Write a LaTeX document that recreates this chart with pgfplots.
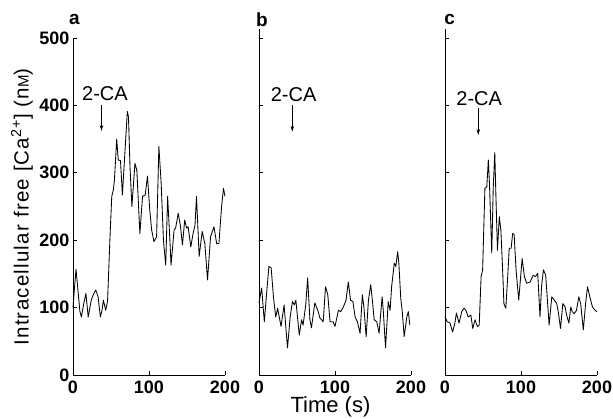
\documentclass[border=0pt]{standalone}
\usepackage{fontspec}
\setmainfont{Liberation Sans}
\newfontfamily\ylabfont[LetterSpace=6]{Liberation Sans}
\usepackage{pgfplots}
\pgfplotsset{compat=1.18}
\usepackage{pgfplotstable}
\usetikzlibrary{arrows.meta}

\pgfplotstableread{
t v
0 100
2 130
4 157
7 120
9 95
11 86
14 105
17 121
20 86
24 111
27 120
30 126
33 116
36 86
38 95
40 111
43 96
45.5 110
48.5 200
51 265
53 274
54.5 289
57.5 350
59.5 319
62.5 318
65 267
68.5 334
71.5 391
73 383
75 309
77.5 250
81.5 314
84 304
88 210
91.5 265
95 267
98 295
101 245
103.5 215
106.5 198
110 205
113 339
116 285
119 200
122 163
124.5 265
127.5 200
129 163
133 215
135 218
138.5 240
141.5 220
144 193
147 230
149.5 218
151.5 220
155 190
158 210
160.5 222
162.5 265
166 176
170 213
173.5 195
177 141
181 205
185.5 220
189 195
192 195
195.5 250
198 277
200 265
}\dataA

\pgfplotstableread{
t v
0 107
3.5 129
7 79
10 121
13 161
16 159
19 116
22 86
24.5 99
29 72
33 104
37.5 40
41 86
44 109
46.5 104
48.5 111
53 59
56 82
58 74
61.5 104
64 144
67 82
69 70
73.5 107
78 94
80 85
84.5 79
87.5 131
90.5 119
93.5 79
97.5 79
100 72
104.5 96
107.5 94
111 101
114.5 111
117.5 138
120.5 111
123.5 109
126.5 86
129.5 79
133 62
136 119
138 101
141 57
144 111
147 134
149.5 107
151.5 82
155 79
158 62
162 116
163.5 96
166.5 40
170 109
172.5 96
174.5 131
178 166
180 161
182.5 183
184 166
186.5 114
188.5 94
191 57
194.5 86
196.5 94
198.5 74
}\dataB

\pgfplotstableread{
t v
0 86
3 79
6.5 77
10 64
13 77
15 92
18.5 77
22 94
25 99
27.5 96
30.5 86
34 89
36.5 69
39.5 82
42.5 72
45 74
47.5 146
49.5 156
52.5 277
55 279
57 319
58.5 284
61.5 181
63.5 279
65.5 330
67 265
69 185
71.5 235
73.5 215
76 151
77.5 106
80 99
82.5 146
84.5 188
87 188
89 210
91 208
93.5 156
97 111
101.5 173
104.5 146
107.5 136
112 138
116 148
119 146
122 151
125 86
127 131
129.5 156
132.5 148
137 74
140.5 116
144 111
147 106
149 94
152 69
155 106
158 101
160 89
163 77
165.5 101
167.5 94
170 91
173 96
176 116
178.5 106
182 67
185 106
187.5 131
191 114
194 101
197.5 96
200 94
}\dataC

\tikzset{
  trace/.style={black, line width=0.85pt, line join=round},
  arr/.style={-{Stealth[length=6pt,width=3.5pt]}, line width=0.7pt},
  ca/.style={font=\fontsize{20}{22}\selectfont},
  lett/.style={font=\bfseries\fontsize{19}{20}\selectfont},
}
\pgfplotsset{
  panel/.style={
    anchor=south west,
    scale only axis,
    width=152pt,
    xmin=0, xmax=200, ymin=0,
    axis x line*=bottom, axis y line*=left,
    every outer x axis line/.append style={-},
    every outer y axis line/.append style={-},
    axis line style={-, line width=0.9pt, black},
    xtick={0,100,200},
    tick align=inside,
    major tick length=4pt,
    tick style={line width=0.8pt, black},
    /pgf/number format/assume math mode=true,
    ticklabel style={font=\bfseries\fontsize{18}{20}\selectfont},
    xticklabel style={yshift=-2pt},
    clip=false,
  },
}

\begin{document}
\begin{tikzpicture}
\path[use as bounding box] (0pt,0pt) rectangle (613pt,418pt);

\begin{axis}[panel, at={(73pt,43pt)}, height=337pt, ymax=500,
  ytick={0,100,200,300,400,500}]
  \addplot[trace] table[x=t,y=v] {\dataA};
  \node[lett] at (axis cs:2,527) {a};
  \node[ca] at (axis cs:42,418) {2-CA};
  \draw[arr] (axis cs:37.5,401) -- (axis cs:37.5,362);
\end{axis}

\begin{axis}[panel, at={(259pt,43pt)}, height=346.4pt, ymax=514,
  ytick={100,200,300,400,500}, yticklabels={},
  xlabel={Time (s)},
  xlabel style={font=\fontsize{22}{24}\selectfont, at={(axis description cs:0.47,0)}, anchor=center, yshift=-32pt}]
  \addplot[trace] table[x=t,y=v] {\dataB};
  \node[lett] at (axis cs:4,527) {b};
  \node[ca] at (axis cs:45.5,416) {2-CA};
  \draw[arr] (axis cs:43.8,401) -- (axis cs:43.8,361);
\end{axis}

\begin{axis}[panel, at={(445pt,43pt)}, height=346.4pt, ymax=514,
  ytick={100,200,300,400,500}, yticklabels={}]
  \addplot[trace] table[x=t,y=v] {\dataC};
  \node[lett] at (axis cs:6,527) {c};
  \node[ca] at (axis cs:45,410) {2-CA};
  \draw[arr] (axis cs:43.8,396) -- (axis cs:43.8,356);
\end{axis}

\node[rotate=90, font=\ylabfont\fontsize{20.5}{22}\selectfont] at (22pt,211pt)
  {Intracellular free [Ca\textsuperscript{2+}] (n{\fontsize{15}{16}\selectfont M})};
\end{tikzpicture}
\end{document}
